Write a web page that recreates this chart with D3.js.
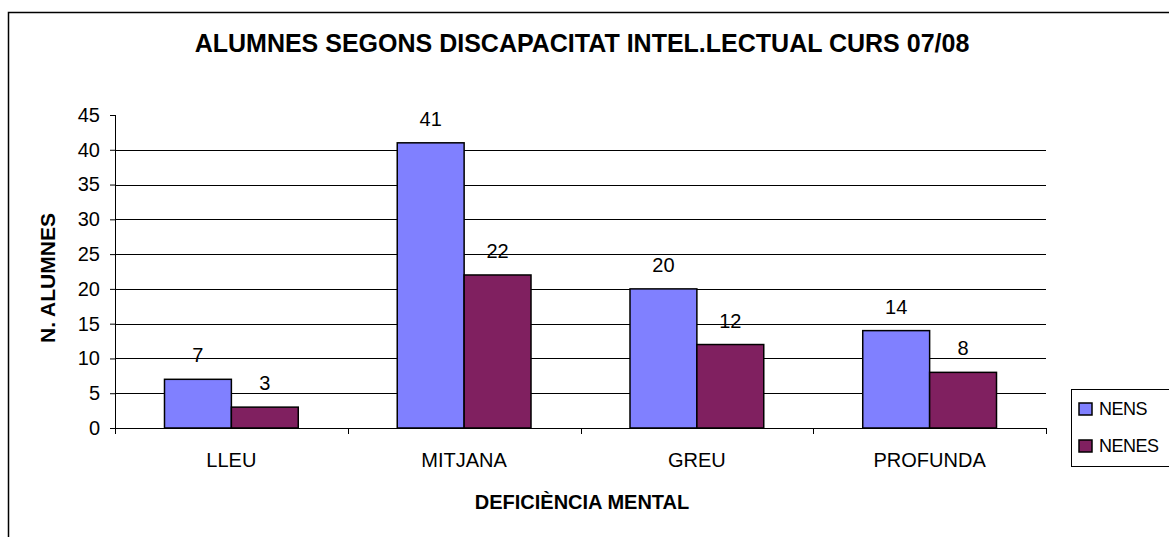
<!DOCTYPE html>
<html>
<head>
<meta charset="utf-8">
<script src="https://cdn.jsdelivr.net/npm/d3@7"></script>
<style>
  body { margin: 0; background: #fff; }
  svg text { font-family: "Liberation Sans", Arial, sans-serif; fill: #000; }
</style>
</head>
<body>
<div id="main"></div>
<script>
var categories = ["LLEU", "MITJANA", "GREU", "PROFUNDA"];
var seriesNames = ["NENS", "NENES"];
var nens = [7, 41, 20, 14];
var nenes = [3, 22, 12, 8];
var yTicks = [0, 5, 10, 15, 20, 25, 30, 35, 40, 45];

var W = 1169, H = 537;
var margin = { top: 115, left: 115, right: 123, bottom: 109 };
var width = W - margin.left - margin.right,
  height = H - margin.top - margin.bottom;

var color = d3.scaleOrdinal().domain(seriesNames).range(["#8080ff", "#802060"]);

var svg = d3.select("#main").append("svg")
  .attr("width", W).attr("height", H);

// outer chart border (cropped by the picture)
svg.append("rect")
  .attr("x", 8.5).attr("y", 12.5)
  .attr("width", W + 20).attr("height", H + 20)
  .attr("fill", "none").attr("stroke", "#000").attr("stroke-width", 1.5);

svg.append("text")
  .attr("x", 582).attr("y", 52)
  .attr("text-anchor", "middle")
  .style("font-weight", "bold").style("font-size", "25px")
  .text("ALUMNES SEGONS DISCAPACITAT INTEL.LECTUAL CURS 07/08");

var g = svg.append("g")
  .attr("transform", "translate(" + margin.left + "," + margin.top + ")");

var x = d3.scaleBand().domain(categories).range([0, width]);
var x1 = d3.scaleBand().domain(seriesNames)
  .range([0, x.bandwidth()]).paddingInner(0).paddingOuter(0.74);
var y = d3.scaleLinear().domain([0, 45]).range([height, 0]);

// gridlines
g.selectAll(".grid").data(yTicks.filter(d => d > 0 && d < 45)).enter()
  .append("line")
  .attr("x1", 0).attr("x2", width)
  .attr("y1", d => Math.round(y(d)) + 0.5).attr("y2", d => Math.round(y(d)) + 0.5)
  .attr("stroke", "#000").attr("stroke-width", 1);

// y axis
var yAxis = g.append("g")
  .call(d3.axisLeft(y).tickValues(yTicks).tickSize(5).tickPadding(10));
yAxis.selectAll("text").style("font-size", "20px");
yAxis.select(".domain").attr("d", "M0.5," + y(45) + "V" + height);

// bars
var data = categories.map((c, i) => ({ cat: c, vals: [
  { s: "NENS", v: nens[i] }, { s: "NENES", v: nenes[i] }] }));

var groups = g.selectAll(".grp").data(data).enter().append("g")
  .attr("transform", d => "translate(" + x(d.cat) + ",0)");

groups.selectAll("rect").data(d => d.vals).enter().append("rect")
  .attr("x", d => x1(d.s))
  .attr("y", d => y(d.v))
  .attr("width", x1.bandwidth())
  .attr("height", d => height - y(d.v))
  .attr("fill", d => color(d.s))
  .attr("stroke", "#000").attr("stroke-width", 1.5);

groups.selectAll(".lbl").data(d => d.vals).enter().append("text")
  .attr("x", d => x1(d.s) + x1.bandwidth() / 2)
  .attr("y", d => y(d.v) - 17)
  .attr("text-anchor", "middle")
  .style("font-size", "20px")
  .text(d => d.v);

// x axis
var xAxis = g.append("g").attr("transform", "translate(0," + height + ")");
xAxis.append("line").attr("x1", 0).attr("x2", width).attr("y1", 0.5).attr("y2", 0.5)
  .attr("stroke", "#000");
xAxis.selectAll(".tk").data(d3.range(categories.length + 1)).enter().append("line")
  .attr("x1", i => Math.round(i * x.step()) + 0.5).attr("x2", i => Math.round(i * x.step()) + 0.5)
  .attr("y1", 0).attr("y2", 6).attr("stroke", "#000");
xAxis.selectAll(".cl").data(categories).enter().append("text")
  .attr("x", d => x(d) + x.bandwidth() / 2)
  .attr("y", 39)
  .attr("text-anchor", "middle")
  .style("font-size", "20px")
  .text(d => d);

svg.append("text")
  .attr("x", 582).attr("y", 509)
  .attr("text-anchor", "middle")
  .style("font-weight", "bold").style("font-size", "20px")
  .text("DEFICIÈNCIA MENTAL");

svg.append("text")
  .attr("transform", "translate(55,278) rotate(-90)")
  .attr("text-anchor", "middle")
  .style("font-weight", "bold").style("font-size", "21px")
  .text("N. ALUMNES");

// legend
var legend = svg.append("g").attr("transform", "translate(1071,389)");
legend.append("rect").attr("x", 0.5).attr("y", 0.5).attr("width", 110).attr("height", 77)
  .attr("fill", "#fff").attr("stroke", "#000");
var li = legend.selectAll(".li").data(seriesNames).enter().append("g")
  .attr("transform", (d, i) => "translate(8," + (14 + i * 37) + ")");
li.append("rect").attr("width", 13).attr("height", 12)
  .attr("fill", d => color(d)).attr("stroke", "#000").attr("stroke-width", 1.5);
li.append("text").attr("x", 20).attr("y", 12)
  .style("font-size", "18px")
  .style("letter-spacing", "-0.5px")
  .text(d => d);
</script>
</body>
</html>
